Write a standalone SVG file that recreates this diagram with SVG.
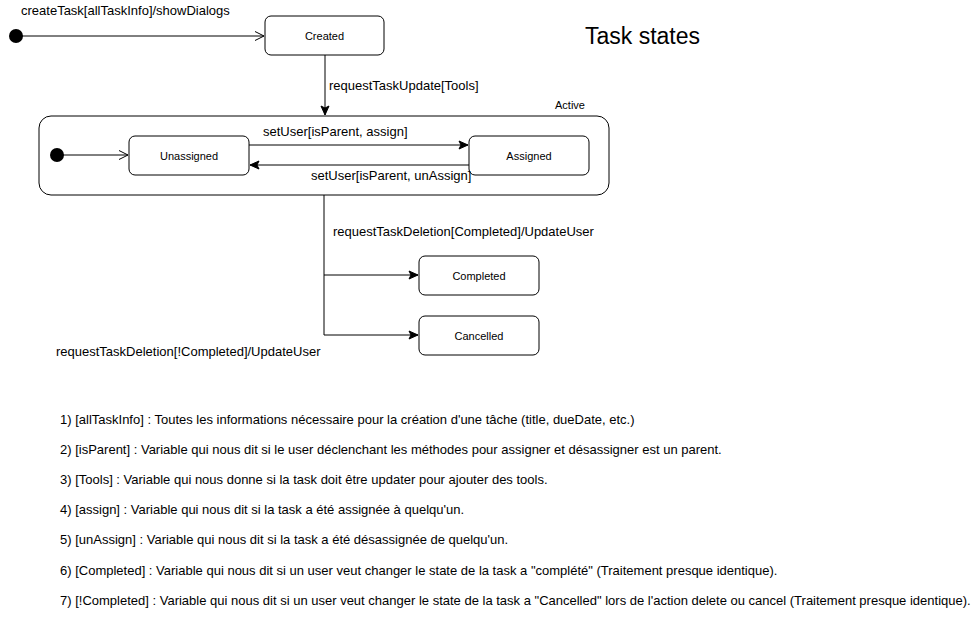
<svg xmlns="http://www.w3.org/2000/svg" width="971" height="617" viewBox="0 0 971 617">
<style>
text{font-family:"Liberation Sans",Arial,sans-serif;fill:#000}
.st{fill:#fff;stroke:#000;stroke-width:1}
.nl{font-size:11px;text-anchor:middle}
.el{font-size:13px}
.nt{font-size:13px}
.ln{fill:none;stroke:#000;stroke-width:1}
</style>
<defs>
<marker id="open" markerWidth="12" markerHeight="12" refX="10" refY="6" orient="auto" markerUnits="userSpaceOnUse">
<path d="M1,1.5 L10,6 L1,10.5" fill="none" stroke="#000" stroke-width="1"/>
</marker>
<marker id="classic" markerWidth="12" markerHeight="12" refX="10" refY="6" orient="auto" markerUnits="userSpaceOnUse">
<path d="M1,2 L10,6 L1,10 L3,6 Z" fill="#000" stroke="#000" stroke-width="1"/>
</marker>
</defs>
<rect width="971" height="617" fill="#fff"/>
<text x="585" y="44" style="font-size:23px">Task states</text>
<g id="init1"><circle cx="16" cy="36" r="7" fill="#000"/></g>
<g id="created"><rect class="st" x="265" y="16" width="119" height="39" rx="6"/><text class="nl" x="324.5" y="40">Created</text></g>
<g id="active"><rect class="st" x="39" y="116" width="570" height="79" rx="12"/><text x="555" y="109" style="font-size:11px">Active</text></g>
<g id="init2"><circle cx="57" cy="155" r="7" fill="#000"/></g>
<g id="unassigned"><rect class="st" x="129" y="136" width="120" height="39" rx="6"/><text class="nl" x="189" y="160">Unassigned</text></g>
<g id="assigned"><rect class="st" x="469" y="136" width="120" height="39" rx="6"/><text class="nl" x="529" y="160">Assigned</text></g>
<g id="completed"><rect class="st" x="419" y="256" width="120" height="39" rx="6"/><text class="nl" x="479" y="280">Completed</text></g>
<g id="cancelled"><rect class="st" x="419" y="316" width="120" height="39" rx="6"/><text class="nl" x="479" y="340">Cancelled</text></g>
<g id="connectors">
<path class="ln" d="M16,36 L264,36" marker-end="url(#open)"/>
<text class="el" x="21" y="15">createTask[allTaskInfo]/showDialogs</text>
<path class="ln" d="M325,55 L325,115" marker-end="url(#classic)"/>
<text class="el" x="329" y="90">requestTaskUpdate[Tools]</text>
<path class="ln" d="M57,155 L128,155" marker-end="url(#open)"/>
<path class="ln" d="M249,145 L468,145" marker-end="url(#classic)"/>
<text class="el" x="263" y="136">setUser[isParent, assign]</text>
<path class="ln" d="M469,165 L250,165" marker-end="url(#classic)"/>
<text class="el" x="311" y="180">setUser[isParent, unAssign]</text>
<path class="ln" d="M324,195 L324,275 L418,275" marker-end="url(#classic)"/>
<path class="ln" d="M324,275 L324,335 L418,335" marker-end="url(#classic)"/>
<text class="el" x="333" y="236">requestTaskDeletion[Completed]/UpdateUser</text>
<text class="el" x="56" y="356">requestTaskDeletion[!Completed]/UpdateUser</text>
</g>
<g id="notes">
<text class="nt" x="60" y="424">1) [allTaskInfo] : Toutes les informations nécessaire pour la création d'une tâche (title, dueDate, etc.)</text>
<text class="nt" x="60" y="454">2) [isParent] : Variable qui nous dit si le user déclenchant les méthodes pour assigner et désassigner est un parent.</text>
<text class="nt" x="60" y="484">3) [Tools] : Variable qui nous donne si la task doit être updater pour ajouter des tools.</text>
<text class="nt" x="60" y="514">4) [assign] : Variable qui nous dit si la task a été assignée à quelqu'un.</text>
<text class="nt" x="60" y="544">5) [unAssign] : Variable qui nous dit si la task a été désassignée de quelqu'un.</text>
<text class="nt" x="60" y="575">6) [Completed] : Variable qui nous dit si un user veut changer le state de la task a "complété" (Traitement presque identique).</text>
<text class="nt" x="60" y="605">7) [!Completed] : Variable qui nous dit si un user veut changer le state de la task a "Cancelled" lors de l'action delete ou cancel (Traitement presque identique).</text>
</g>
</svg>
